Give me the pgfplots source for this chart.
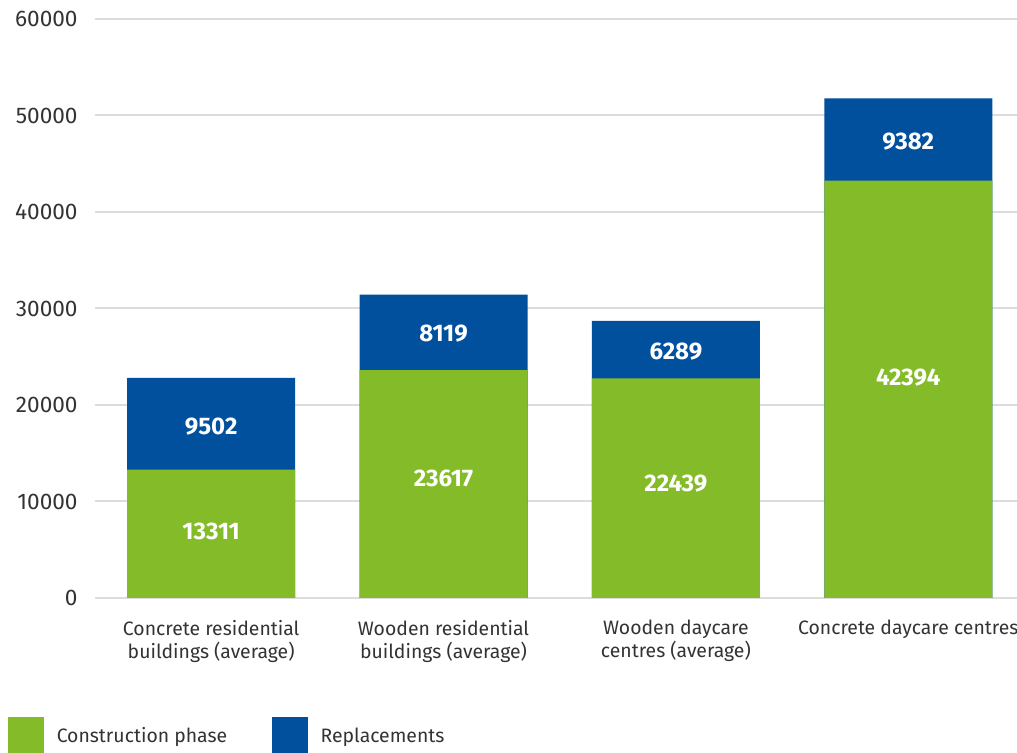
\documentclass[border=0pt]{standalone}
\usepackage{pgfplots}
\pgfplotsset{compat=1.18}
\usepackage{fontspec}
\setmainfont{Fira Sans}
\definecolor{cgreen}{HTML}{84BB29}
\definecolor{cblue}{HTML}{00509E}
\definecolor{ctext}{HTML}{333333}
\definecolor{cgrid}{HTML}{DCDCDC}
\begin{document}
\begin{tikzpicture}
\begin{axis}[
  scale only axis, width=461pt, height=289.5pt,
  at={(0,0)}, anchor=south west,
  xmin=-0.5, xmax=3.468, ymin=0, ymax=60000,
  axis line style={draw=none},
  major tick length=0pt,
  scaled y ticks=false,
  ytick={0,10000,20000,30000,40000,50000,60000},
  yticklabels={0,10000,20000,30000,40000,50000,60000},
  xtick={0,1,2,3},
  xticklabels={{Concrete residential\\buildings (average)},{Wooden residential\\buildings (average)},{Wooden daycare\\centres (average)},{Concrete daycare centres}},
  ymajorgrids, grid style={cgrid, line width=1pt},
  tick label style={text=ctext},
  xticklabel style={align=center, anchor=north, inner sep=0pt, yshift=-11pt, font=\fontsize{9.7}{11.5}\selectfont},
  yticklabel style={anchor=east, inner sep=0pt, xshift=-8.5pt, font=\fontsize{11.3}{12}\selectfont},
  clip=false,
  legend style={at={(-0.0944,-0.2055)}, anchor=north west, draw=none, fill=none, inner sep=0pt,
     font=\fontsize{9.7}{11.5}\selectfont, text=ctext, legend columns=2,
     /tikz/every even column/.append style={column sep=20.5pt}},
  legend cell align=left,
  legend image code/.code={\fill[#1] (0pt,-8.5pt) rectangle (17.5pt,9.5pt); \path[draw=none,fill=none] (0pt,0pt) rectangle (22pt,0.1pt);},
]
\addplot[ybar, bar width=84pt, bar shift=0pt, fill=cblue, draw=none, forget plot]
  coordinates {(0,22813) (1,31450) (2,28728) (3,51776)};
\addplot[ybar, bar width=84pt, bar shift=0pt, fill=cgreen, draw=none, forget plot]
  coordinates {(0,13311) (1,23617) (2,22750) (3,43250)};
\addplot[draw=none, mark=none, forget plot, nodes near coords, point meta=explicit symbolic,
  nodes near coords align=center,
  every node near coord/.append style={anchor=center, text=white, font=\fontsize{12}{12}\selectfont\bfseries}]
  coordinates {(0,6936)[13311] (1,12422)[23617] (2,11905)[22439] (3,22878)[42394]
               (0,17805)[9502] (1,27432)[8119] (2,25570)[6289] (3,47308)[9382]};
\addlegendimage{cgreen}\addlegendentry{Construction phase}
\addlegendimage{cblue}\addlegendentry{Replacements}
\end{axis}
\pgfresetboundingbox
\path[use as bounding box] (-47.5pt,-77.5pt) rectangle (461pt,299pt);
\end{tikzpicture}
\end{document}
